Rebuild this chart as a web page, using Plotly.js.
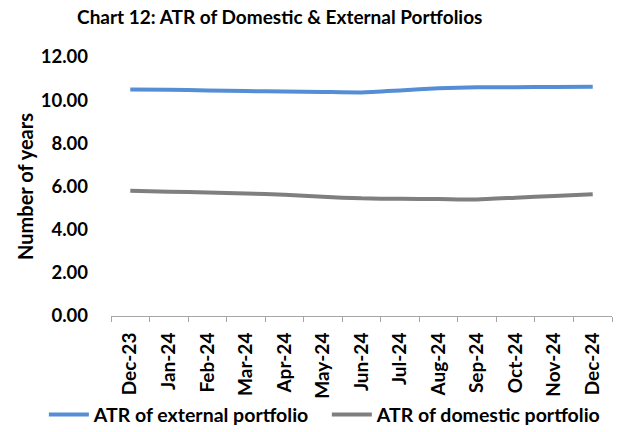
<!DOCTYPE html>
<html>
<head>
<meta charset="utf-8">
<script src="https://cdn.plot.ly/plotly-3.0.1.min.js"></script>
<style>html,body{margin:0;padding:0;background:#fff;}#chart{width:619px;height:432px;}</style>
</head>
<body>
<div id="chart"></div>
<script>
const months = ["Dec-23","Jan-24","Feb-24","Mar-24","Apr-24","May-24","Jun-24","Jul-24","Aug-24","Sep-24","Oct-24","Nov-24","Dec-24"];
const externalATR = [10.50,10.48,10.45,10.42,10.40,10.38,10.36,10.45,10.55,10.60,10.60,10.61,10.62];
const domesticATR = [5.80,5.76,5.72,5.68,5.62,5.52,5.45,5.43,5.42,5.40,5.48,5.56,5.64];
const yTicks = [0,2,4,6,8,10,12];
const yTickText = ["0.00","2.00","4.00","6.00","8.00","10.00","12.00"];

const F = "Lato, 'Open Sans', sans-serif";
const traces = [
  {x: months, y: externalATR, name: "<b>ATR of external portfolio</b>", type: "scatter", mode: "lines",
   line: {color: "#558ED5", width: 4, shape: "spline", smoothing: 0.5}},
  {x: months, y: domesticATR, name: "<b>ATR of domestic portfolio</b>", type: "scatter", mode: "lines",
   line: {color: "#7F7F7F", width: 4, shape: "spline", smoothing: 0.5}}
];
const layout = {
  width: 619, height: 432,
  margin: {l: 111, r: 7, t: 57, b: 116, autoexpand: false},
  paper_bgcolor: "#fff", plot_bgcolor: "#fff",
  font: {family: F, color: "#000", size: 18},
  title: {text: "<b>Chart 12: ATR of Domestic & External Portfolios</b>", x: 0.452, xanchor: "center", y: 0.96, yanchor: "middle",
          font: {family: F, size: 19, color: "#000"}},
  xaxis: {type: "category", range: [-0.5, 12.5], tickangle: -90, showgrid: false, showline: true, linecolor: "#A6A6A6", linewidth: 1,
          ticks: "outside", tickson: "boundaries", ticklen: 5, tickcolor: "#A6A6A6", ticklabelstandoff: 8,
          tickvals: months, ticktext: months.map(m => "<b>" + m + "</b>"),
          tickfont: {family: F, size: 19, color: "#000"}, fixedrange: true, automargin: false},
  yaxis: {range: [0, 12], tickvals: yTicks, ticktext: yTickText.map(t => "<b>" + t + "</b>"), showgrid: false, zeroline: false, showline: false,
          ticks: "", ticklabelstandoff: 22, automargin: false,
          tickfont: {family: F, size: 18.5, color: "#000"},
          title: {text: "<b>Number of years</b>", font: {family: F, size: 20, color: "#000"}, standoff: 1}},
  legend: {orientation: "h", x: -0.134, xanchor: "left", y: -0.382, yanchor: "middle",
           font: {family: F, size: 19.5, color: "#000"}, itemwidth: 40, traceorder: "normal",
           entrywidth: 228, entrywidthmode: "pixels", bgcolor: "rgba(0,0,0,0)"},
  showlegend: true
};
Plotly.newPlot("chart", traces, layout, {displayModeBar: false, staticPlot: true});
</script>
</body>
</html>
